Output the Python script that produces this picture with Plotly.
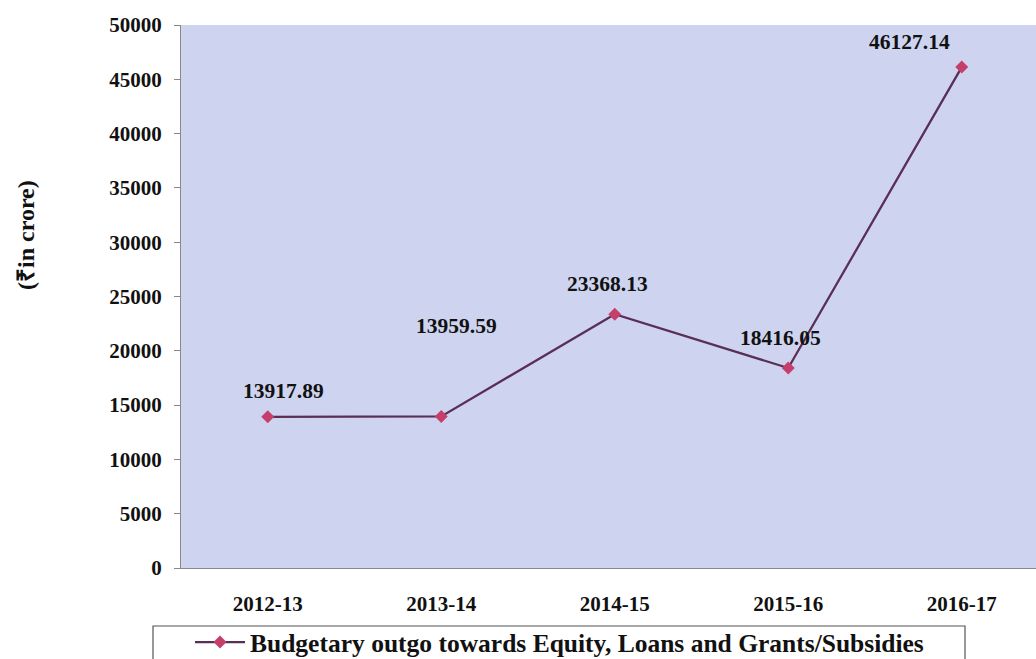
import plotly.graph_objects as go

years = ["2012-13", "2013-14", "2014-15", "2015-16", "2016-17"]
outgo = [13917.89, 13959.59, 23368.13, 18416.05, 46127.14]
series_name = "Budgetary outgo towards Equity, Loans and Grants/Subsidies"
y_title = "(₹in crore)"
y_ticks = [0, 5000, 10000, 15000, 20000, 25000, 30000, 35000, 40000, 45000, 50000]

FONT = "Liberation Serif, Times New Roman, serif"
L, T, PW, PH = 181, 25, 855, 543  # plot area in px


def px_x(p):
    return (p - L) / PW


def px_y(p):
    return (T + PH - p) / PH


fig = go.Figure()
fig.add_trace(go.Scatter(
    x=years, y=outgo, mode="lines+markers", name=f"<b>{series_name}</b>",
    line=dict(color="#5a2f55", width=2.3),
    marker=dict(symbol="diamond", size=10, color="#c4406b"),
))

# label offsets (pixels) per point
offs = [(16, 26), (15, 90), (-7, 30), (-8, 30), (-52, 25)]
for x, y, (dx, dy) in zip(years, outgo, offs):
    fig.add_annotation(x=x, y=y, text=f"<b>{y:.2f}</b>", showarrow=False,
                       xshift=dx, yshift=dy,
                       font=dict(family=FONT, size=21.5, color="#111111"))

# y-axis title
fig.add_annotation(xref="paper", yref="paper", x=px_x(26), y=px_y(235),
                   xanchor="center", yanchor="middle",
                   text=f"<b>{y_title}</b>", textangle=-90, showarrow=False,
                   font=dict(family=FONT, size=24, color="#111111"))

# legend frame
fig.add_shape(type="rect", xref="paper", yref="paper",
              x0=px_x(153), x1=px_x(965), y0=px_y(626), y1=px_y(700),
              line=dict(color="#555555", width=1.2), fillcolor="rgba(0,0,0,0)")

fig.update_layout(
    width=1036, height=659,
    margin=dict(l=L, r=0, t=T, b=659 - T - PH, autoexpand=False),
    paper_bgcolor="white", plot_bgcolor="#ced4f0",
    font=dict(family=FONT, color="#111111"),
    showlegend=True,
    legend=dict(x=px_x(190), y=px_y(619), xanchor="left", yanchor="top",
                orientation="h", borderwidth=0,
                bgcolor="rgba(0,0,0,0)", itemwidth=50,
                font=dict(family=FONT, size=25.5, color="#111111")),
    xaxis=dict(type="category", range=[-0.5, 4.428], showgrid=False,
               showline=True, linecolor="#888888", linewidth=1,
               ticks="", ticklabelstandoff=17,
               tickfont=dict(family=FONT, size=21, color="#111111"),
               tickvals=years, ticktext=[f"<b>{t}</b>" for t in years]),
    yaxis=dict(range=[0, 50000], tickvals=y_ticks,
               ticktext=[f"<b>{t}</b>" for t in y_ticks], showgrid=False,
               showline=True, linecolor="#888888", linewidth=1,
               ticks="outside", ticklen=6, tickcolor="#888888",
               ticklabelstandoff=8,
               tickfont=dict(family=FONT, size=21, color="#111111")),
)

fig.write_html("out.html")
